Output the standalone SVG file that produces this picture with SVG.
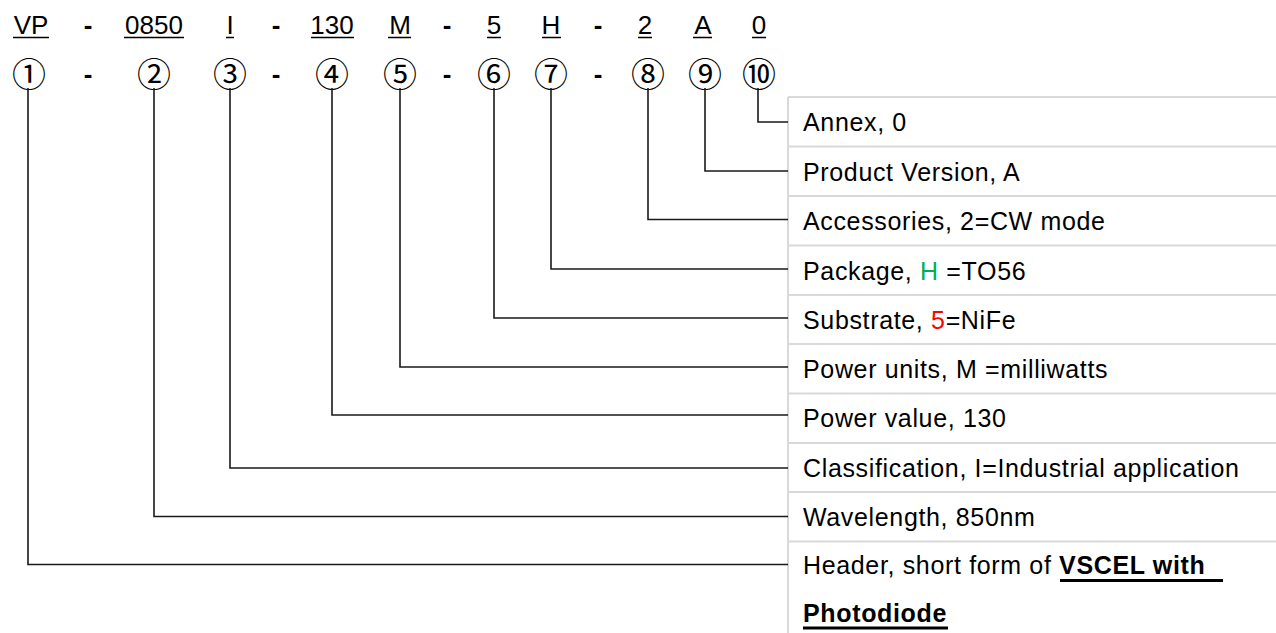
<svg xmlns="http://www.w3.org/2000/svg" width="1276" height="633" viewBox="0 0 1276 633">
<style>
.code{font-family:"Liberation Sans",Arial,sans-serif;font-size:26px;fill:#000;text-anchor:middle}
.dash{font-family:"Liberation Sans",Arial,sans-serif;font-size:26px;font-weight:bold;fill:#000;text-anchor:middle}
.num{font-family:"Noto Sans CJK JP","DejaVu Sans",sans-serif;font-size:34px;fill:#000;text-anchor:middle}
.lbl{font-family:"Liberation Sans",Arial,sans-serif;font-size:25px;letter-spacing:0.65px;fill:#000}
.b{font-weight:bold}
.ul{stroke:#000;stroke-width:1.6}
.grid{stroke:#d9d9d9;stroke-width:2;fill:none}
.conn{stroke:#1a1a1a;stroke-width:1.6;fill:none}
</style>
<rect width="1276" height="633" fill="#fff"/>
<g id="code-row">
<text class="code" x="31" y="33.5">VP</text>
<text class="dash" x="88" y="33.5">-</text>
<text class="code" x="154" y="33.5">0850</text>
<text class="code" x="230" y="33.5">I</text>
<text class="dash" x="276" y="33.5">-</text>
<text class="code" x="332" y="33.5">130</text>
<text class="code" x="400" y="33.5">M</text>
<text class="dash" x="447" y="33.5">-</text>
<text class="code" x="494" y="33.5">5</text>
<text class="code" x="551" y="33.5">H</text>
<text class="dash" x="598" y="33.5">-</text>
<text class="code" x="645" y="33.5">2</text>
<text class="code" x="703" y="33.5">A</text>
<text class="code" x="759" y="33.5">0</text>
<path class="ul" d="M13 37.5H49M124 37.5H184M226 37.5H234M311 37.5H354M388 37.5H411M487 37.5H501M542 37.5H561M638 37.5H652M693 37.5H712M752 37.5H766"/>
</g>
<g id="index-row">
<text class="num" x="29" y="86.5">①</text>
<text class="dash" x="88" y="83">-</text>
<text class="num" x="154" y="86.5">②</text>
<text class="num" x="230" y="86.5">③</text>
<text class="dash" x="276" y="83">-</text>
<text class="num" x="332" y="86.5">④</text>
<text class="num" x="400" y="86.5">⑤</text>
<text class="dash" x="447" y="83">-</text>
<text class="num" x="494" y="86.5">⑥</text>
<text class="num" x="551" y="86.5">⑦</text>
<text class="dash" x="598" y="83">-</text>
<text class="num" x="648" y="86.5">⑧</text>
<text class="num" x="705" y="86.5">⑨</text>
<text class="num" x="759" y="86.5">⑩</text>
</g>
<g id="table">
<path class="grid" d="M788 97V633M788 97H1276M788 146.5H1276M788 196H1276M788 245.5H1276M788 295H1276M788 344H1276M788 393.5H1276M788 443H1276M788 492H1276M788 541.5H1276"/>
</g>
<g id="row-10"><text class="lbl" x="803" y="131">Annex, 0</text></g>
<g id="row-9"><text class="lbl" x="803" y="180.5">Product Version, A</text></g>
<g id="row-8"><text class="lbl" x="803" y="230">Accessories, 2=CW mode</text></g>
<g id="row-7"><text class="lbl" x="803" y="279.5">Package, <tspan fill="#00b050">H</tspan> =TO56</text></g>
<g id="row-6"><text class="lbl" x="803" y="328.5">Substrate, <tspan fill="#ff0000">5</tspan>=NiFe</text></g>
<g id="row-5"><text class="lbl" x="803" y="377.5">Power units, M =milliwatts</text></g>
<g id="row-4"><text class="lbl" x="803" y="427">Power value, 130</text></g>
<g id="row-3"><text class="lbl" x="803" y="476.5">Classification, I=Industrial application</text></g>
<g id="row-2"><text class="lbl" x="803" y="525.5">Wavelength, 850nm</text></g>
<g id="row-1">
<text class="lbl" x="803" y="573.5">Header, short form of <tspan class="b">VSCEL with </tspan></text>
<text class="lbl b" x="803" y="621.5">Photodiode</text>
<path stroke="#000" stroke-width="3" d="M1060 580.5H1223M803 628H948"/>
</g>
<g id="connectors">
<path class="conn" d="M758 88V122H788"/>
<path class="conn" d="M705 88V171H788"/>
<path class="conn" d="M648 88V219.5H788"/>
<path class="conn" d="M551 88V269H788"/>
<path class="conn" d="M494 88V318H788"/>
<path class="conn" d="M400 88V367H788"/>
<path class="conn" d="M332 88V415H788"/>
<path class="conn" d="M230 88V468H788"/>
<path class="conn" d="M154 88V516.5H788"/>
<path class="conn" d="M28 88V564.5H788"/>
</g>
</svg>
